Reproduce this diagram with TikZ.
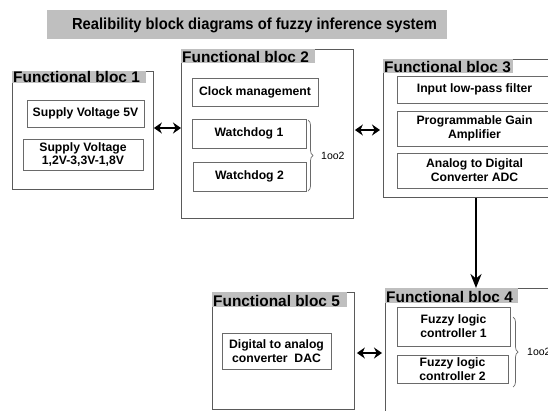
\documentclass[tikz,border=0pt]{standalone}
\usepackage{fontspec}
\setmainfont{Liberation Sans}
\newfontfamily\titlefont[FakeStretch=0.92]{Liberation Sans}
\usetikzlibrary{arrows.meta,decorations.pathreplacing}
\definecolor{hdrgray}{HTML}{BFBFBF}
\definecolor{boxline}{HTML}{5A5A5A}
\definecolor{inline}{HTML}{6A6A6A}
\tikzset{
  x=1pt,y=-1pt,
  outerbox/.style={draw=boxline,line width=0.9pt,anchor=north west,inner sep=0pt},
  hdrbox/.style={fill=hdrgray,anchor=north west,inner sep=0pt},
  hdrtext/.style={anchor=base west,inner sep=0pt,font=\fontsize{15.4}{16}\selectfont\bfseries},
  inbox/.style={draw=inline,line width=0.8pt,fill=white,inner sep=0pt,align=center,
    font=\fontsize{12.2}{14}\selectfont\bfseries},
  harr/.style={{Stealth[length=8pt,width=11pt]}-{Stealth[length=8pt,width=11pt]},line width=2.2pt},
  varr/.style={-{Stealth[length=14pt,width=11pt]},line width=2.4pt},
  brc/.style={draw=inline,line width=0.7pt,decorate,decoration={brace,amplitude=5pt}},
  ootwo/.style={anchor=west,inner sep=0pt,font=\fontsize{10.5}{12}\selectfont}
}
\begin{document}
\begin{tikzpicture}
\clip (0,0) rectangle (548,410);
\fill[white] (0,0) rectangle (548,410);
% title
\node[fill=hdrgray,minimum width=400pt,minimum height=29pt,inner sep=0pt,anchor=north west] (tbar) at (47,10) {};
\node[inner sep=0pt,font=\titlefont\fontsize{16}{18}\selectfont\bfseries] (title) at (254.5,25) {Realibility block diagrams of fuzzy inference system};

% bloc 1
\node[outerbox,minimum width=141pt,minimum height=118pt] (b1) at (12,71) {};
\node[hdrbox,minimum width=134pt,minimum height=12pt] (h1) at (12,71) {};
\node[hdrtext] (t1) at (13,82.5) {Functional bloc 1};
\node[inbox,minimum width=117pt,minimum height=27pt] (s5v) at (85.5,113.5) {Supply Voltage 5V};
\node[inbox,minimum width=120pt,minimum height=31pt,font=\fontsize{12.2}{12.5}\selectfont\bfseries] (s12) at (83,154.5) {Supply Voltage\\1,2V-3,3V-1,8V};

% bloc 2
\node[outerbox,minimum width=172pt,minimum height=169pt] (b2) at (181,49) {};
\node[hdrbox,minimum width=134pt,minimum height=14pt] (h2) at (181,49) {};
\node[hdrtext] (t2) at (182,62.5) {Functional bloc 2};
\node[inbox,minimum width=126pt,minimum height=28pt] (clk) at (255,92) {Clock management};
\node[inbox,minimum width=114pt,minimum height=29pt] (wd1) at (249,133.5) {Watchdog 1};
\node[inbox,minimum width=113pt,minimum height=29pt] (wd2) at (249.5,176.5) {Watchdog 2};
\coordinate (br1a) at (308,120);
\coordinate (br1b) at (308,191);
\draw[brc] (br1a) -- (br1b);
\node[ootwo] (o1) at (321,156) {1oo2};

% bloc 3
\node[outerbox,minimum width=177pt,minimum height=138pt] (b3) at (383,59) {};
\node[hdrbox,minimum width=130pt,minimum height=14pt] (h3) at (383,59) {};
\node[hdrtext] (t3) at (384,72.5) {Functional bloc 3};
\node[inbox,minimum width=155pt,minimum height=27pt] (ilp) at (474.5,89.5) {Input low-pass filter};
\node[inbox,minimum width=155pt,minimum height=35pt] (pga) at (474.5,128.5) {Programmable Gain\\Amplifier};
\node[inbox,minimum width=155pt,minimum height=35pt] (adc) at (474.5,170.5) {Analog to Digital\\Converter ADC};

% bloc 4
\node[outerbox,minimum width=175pt,minimum height=132pt] (b4) at (385,288) {};
\node[hdrbox,minimum width=133pt,minimum height=15pt] (h4) at (385,288) {};
\node[hdrtext] (t4) at (386,302.5) {Functional bloc 4};
\node[inbox,minimum width=113pt,minimum height=39pt] (f1) at (453.5,326.5) {Fuzzy logic\\controller 1};
\node[inbox,minimum width=111pt,minimum height=28pt] (f2) at (452.5,369) {Fuzzy logic\\controller 2};
\coordinate (br2a) at (513,317);
\coordinate (br2b) at (513,387);
\draw[brc] (br2a) -- (br2b);
\node[ootwo] (o2) at (527,352) {1oo2};

% bloc 5
\node[outerbox,minimum width=142pt,minimum height=117pt] (b5) at (212,292) {};
\node[hdrbox,minimum width=135pt,minimum height=15pt] (h5) at (212,292) {};
\node[hdrtext] (t5) at (213,306.5) {Functional bloc 5};
\node[inbox,minimum width=109pt,minimum height=36pt] (dac) at (276.5,351) {Digital to analog\\converter\ \ DAC};

% connectors
\draw[harr] (b1.east |- 0,128) -- (b2.west |- 0,128);
\draw[harr,shorten <=1pt,shorten >=3pt] (b2.east |- 0,130) -- (b3.west |- 0,130);
\draw[harr,shorten <=2pt,shorten >=3pt] (b5.east |- 0,353) -- (b4.west |- 0,353);
\draw[varr] (b3.south -| 476,0) -- (b4.north -| 476,0);
\end{tikzpicture}
\end{document}
